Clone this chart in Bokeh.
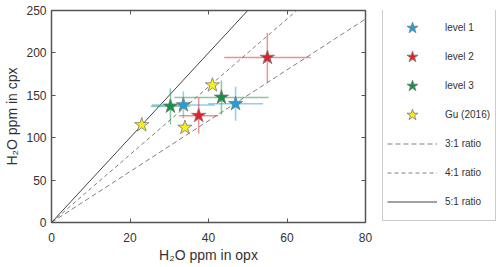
from bokeh.plotting import figure
from bokeh.layouts import row
from bokeh.models import (Legend, LegendItem, LinearAxis, FixedTicker, Range1d)
from bokeh.embed import file_html
from bokeh.resources import INLINE

# H2O contents (ppm): opx on x, cpx on y, with 1-sigma uncertainties
level1_opx = [33.6, 46.9]
level1_cpx = [138.5, 140.0]
level1_opx_err = [8.0, 7.0]
level1_cpx_err = [16.0, 20.0]

level2_opx = [37.5, 55.0]
level2_cpx = [126.0, 194.5]
level2_opx_err = [5.0, 11.0]
level2_cpx_err = [21.0, 29.0]

level3_opx = [30.3, 43.3]
level3_cpx = [137.0, 147.5]
level3_opx_err = [5.0, 12.0]
level3_cpx_err = [21.0, 20.0]

gu_opx = [23.0, 34.0, 41.0]
gu_cpx = [115.0, 112.0, 162.0]

# cpx/opx partition ratios shown as reference lines
ratios = [3, 4, 5]
ratio_labels = ["3:1 ratio", "4:1 ratio", "5:1 ratio"]
ratio_dash = ["5 3", "4 3", "solid"]
ratio_color = ["#808080", "#808080", "#444444"]

x_ticks = [0, 20, 40, 60, 80]
y_ticks = [0, 50, 100, 150, 200, 250]

FONT = "Liberation Sans"
BLUE = "#1ba1e2"
RED = "#e3202a"
GREEN = "#119447"
YELLOW = "#f7ef1c"
STAR = 15
STAR_EDGE = dict(line_color="#777777", line_width=0.8)

p = figure(frame_width=314, frame_height=212, output_backend="svg", toolbar_location=None,
           x_range=Range1d(0, 80), y_range=Range1d(0, 250),
           min_border_left=51, min_border_top=10, min_border_bottom=45,
           min_border_right=7)
p.background_fill_color = "white"
p.border_fill_color = "white"
p.grid.visible = False
p.outline_line_color = "#555555"
p.outline_line_width = 1.5

# main axes
for ax in (p.xaxis[0], p.yaxis[0]):
    ax.major_tick_in = 4
    ax.major_tick_out = 0
    ax.minor_tick_in = 0
    ax.minor_tick_out = 0
    ax.axis_line_color = None
    ax.major_tick_line_color = "#555555"
    ax.major_label_text_font = FONT
    ax.major_label_text_font_size = "12px"
    ax.major_label_text_color = "#333333"
    ax.axis_label_text_font = FONT
    ax.axis_label_text_font_size = "14px"
    ax.axis_label_text_font_style = "normal"
    ax.axis_label_text_color = "#333333"
p.xaxis[0].ticker = FixedTicker(ticks=x_ticks)
p.yaxis[0].ticker = FixedTicker(ticks=y_ticks)
p.xaxis[0].axis_label = "H₂O ppm in opx"
p.yaxis[0].axis_label = "H₂O ppm in cpx"
p.xaxis[0].major_label_standoff = 10
p.xaxis[0].axis_label_standoff = 2
p.yaxis[0].major_label_standoff = 5
p.yaxis[0].axis_label_standoff = 3

# mirrored tick marks on top and right edges (no labels)
top_ax = LinearAxis(ticker=FixedTicker(ticks=x_ticks))
right_ax = LinearAxis(ticker=FixedTicker(ticks=y_ticks))
for ax in (top_ax, right_ax):
    ax.major_tick_in = 4
    ax.major_tick_out = 0
    ax.minor_tick_in = 0
    ax.minor_tick_out = 0
    ax.axis_line_color = None
    ax.major_tick_line_color = "#555555"
    ax.major_label_text_color = None
    ax.major_label_text_font_size = "1px"
    ax.major_label_standoff = 0
p.add_layout(top_ax, "above")
p.add_layout(right_ax, "right")

# ratio lines through the origin
for r, dash, col in zip(ratios, ratio_dash, ratio_color):
    p.line([0, 80], [0, 80 * r], line_color=col, line_width=1, line_dash=dash)

# error bars
def error_bars(xs, ys, xe, ye, color):
    p.segment([x - e for x, e in zip(xs, xe)], ys,
              [x + e for x, e in zip(xs, xe)], ys,
              line_color=color, line_width=1.5, line_alpha=0.5)
    p.segment(xs, [y - e for y, e in zip(ys, ye)],
              xs, [y + e for y, e in zip(ys, ye)],
              line_color=color, line_width=1.5, line_alpha=0.5)

error_bars(level3_opx, level3_cpx, level3_opx_err, level3_cpx_err, GREEN)
error_bars(level1_opx, level1_cpx, level1_opx_err, level1_cpx_err, BLUE)
error_bars(level2_opx, level2_cpx, level2_opx_err, level2_cpx_err, RED)

p.scatter(gu_opx, gu_cpx, marker="star", size=STAR, fill_color=YELLOW, **STAR_EDGE)
p.scatter(level3_opx, level3_cpx, marker="star", size=STAR, fill_color=GREEN, **STAR_EDGE)
p.scatter(level1_opx, level1_cpx, marker="star", size=STAR, fill_color=BLUE, **STAR_EDGE)
p.scatter(level2_opx, level2_cpx, marker="star", size=STAR, fill_color=RED, **STAR_EDGE)

# separate key panel to the right of the plot; its frame lines up with the
# main frame, so the key box is placed relative to that
lf = figure(width=128, height=267, output_backend="svg", toolbar_location=None,
            x_range=Range1d(0, 1), y_range=Range1d(0, 1),
            x_axis_location=None, y_axis_location=None,
            min_border=0, outline_line_color=None)
lf.grid.visible = False

# key entries: style-only renderers (NaN position, so nothing is plotted)
nan = float("nan")
series_labels = ["level 1", "level 2", "level 3", "Gu (2016)"]
series_colors = [BLUE, RED, GREEN, YELLOW]
items = []
for lab, col in zip(series_labels, series_colors):
    g = lf.scatter([nan], [nan], marker="star", size=STAR, fill_color=col, **STAR_EDGE)
    items.append(LegendItem(label=lab, renderers=[g]))
for lab, dash, col in zip(ratio_labels, ratio_dash, ratio_color):
    g = lf.line([nan, nan], [nan, nan], line_color=col, line_width=1, line_dash=dash)
    items.append(LegendItem(label=lab, renderers=[g]))

legend = Legend(items=items, location=(10, 1))
legend.margin = 0
legend.padding = 4
legend.spacing = 0
legend.glyph_width = 50
legend.glyph_height = 29
legend.label_height = 29
legend.label_width = 46
legend.label_standoff = 8
legend.label_text_font = FONT
legend.label_text_font_size = "10px"
legend.label_text_color = "#333333"
legend.border_line_color = "#999999"
legend.border_line_width = 1
legend.background_fill_alpha = 1
lf.add_layout(legend)

layout = row(p, lf)
open("out.html", "w").write(file_html(layout, INLINE))
